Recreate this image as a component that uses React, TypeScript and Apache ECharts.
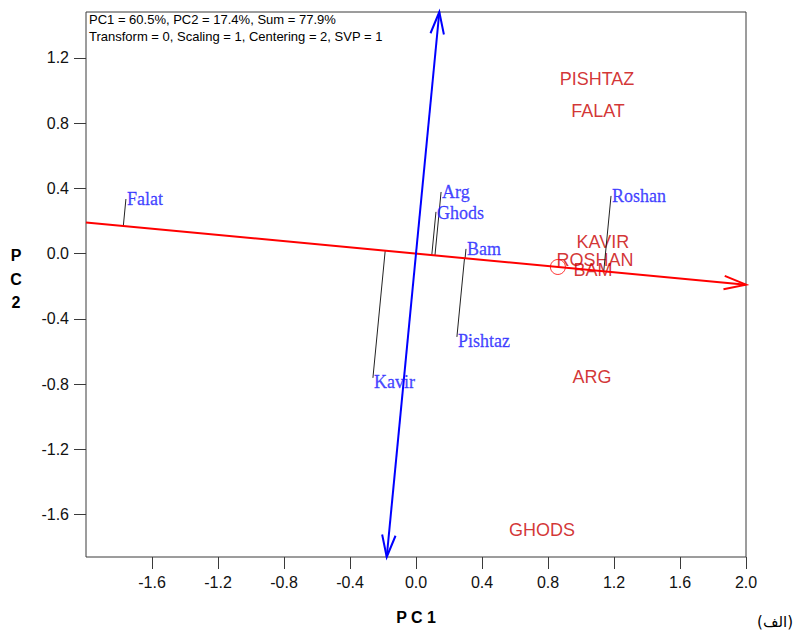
import React, { useEffect, useRef } from "react";
import * as echarts from "echarts";

// ---- data ----
const xTicks = [-1.6, -1.2, -0.8, -0.4, 0.0, 0.4, 0.8, 1.2, 1.6, 2.0];
const yTicks = [-1.6, -1.2, -0.8, -0.4, 0.0, 0.4, 0.8, 1.2];
const xRange = [-2.0, 2.0];
const yRange = [-1.861, 1.482];

// average environment coordinates (red circle)
const aecPoint = [0.86, -0.082];

// blue labels (with projection lines onto the red axis)
const genotypeNames = ["Falat", "Arg", "Ghods", "Bam", "Pishtaz", "Roshan", "Kavir"];
const genotypePC1 = [-1.758, 0.152, 0.121, 0.303, 0.248, 1.182, -0.261];
const genotypePC2 = [0.335, 0.378, 0.256, 0.029, -0.511, 0.354, -0.762];

// red labels
const envNames = ["PISHTAZ", "FALAT", "KAVIR", "ROSHAN", "BAM", "ARG", "GHODS"];
const envPC1 = [1.097, 1.103, 1.133, 1.085, 1.073, 1.067, 0.764];
const envPC2 = [1.071, 0.875, 0.072, -0.038, -0.1, -0.756, -1.694];

const infoLine1 = "PC1 = 60.5%, PC2 = 17.4%, Sum = 77.9%";
const infoLine2 = "Transform = 0, Scaling = 1, Centering = 2, SVP = 1";
const xTitle = "P C 1";
const yTitle = "P\nC\n2";
const panelLabel = "(الف)";

// label nudges (style only, in pixels)
const labelNudge: Record<string, number[]> = { Kavir: [0, 4], Pishtaz: [0, 4], Ghods: [0, 1] };

function arrowHead(tip: number[], tail: number[], len: number, ang: number) {
  const dx = tail[0] - tip[0];
  const dy = tail[1] - tip[1];
  const L = Math.hypot(dx, dy) || 1;
  const ux = dx / L;
  const uy = dy / L;
  const c = Math.cos(ang);
  const s = Math.sin(ang);
  const a1 = [tip[0] + len * (ux * c - uy * s), tip[1] + len * (ux * s + uy * c)];
  const a2 = [tip[0] + len * (ux * c + uy * s), tip[1] + len * (-ux * s + uy * c)];
  return [a1, tip, a2];
}

export default function App() {
  const ref = useRef<HTMLDivElement>(null);

  useEffect(() => {
    document.body.style.margin = "0";
    if (!ref.current) return;
    const chart = echarts.init(ref.current, null, { renderer: "svg" });

    const slope = aecPoint[1] / aecPoint[0];
    const redLine = [[xRange[0], slope * xRange[0], xRange[1], slope * xRange[1], 1]];
    const blueLine = [[-slope * yRange[0], yRange[0], -slope * yRange[1], yRange[1], 2]];
    const norm = Math.hypot(aecPoint[0], aecPoint[1]);
    const ux = aecPoint[0] / norm;
    const uy = aecPoint[1] / norm;

    const axisLineRender = (color: string) => (params: any, api: any) => {
      const p1 = api.coord([api.value(0), api.value(1)]);
      const p2 = api.coord([api.value(2), api.value(3)]);
      const both = api.value(4) === 2;
      const style = { stroke: color, lineWidth: 2, fill: "none" };
      const children: any[] = [
        { type: "line", shape: { x1: p1[0], y1: p1[1], x2: p2[0], y2: p2[1] }, style },
        { type: "polyline", shape: { points: arrowHead(p2, p1, 23, (17 * Math.PI) / 180) }, style },
      ];
      if (both) {
        children.push({
          type: "polyline",
          shape: { points: arrowHead(p1, p2, 23, (17 * Math.PI) / 180) },
          style,
        });
      }
      return { type: "group", children };
    };

    const tickFormatter = (v: number) => (Math.abs(v) < 1e-9 ? 0 : v).toFixed(1);

    const option: any = {
      animation: false,
      grid: {
        left: 86,
        top: 12,
        width: 660,
        height: 545,
        show: true,
        borderColor: "#3a3a3a",
        borderWidth: 1,
        containLabel: false,
      },
      xAxis: {
        type: "value",
        min: xRange[0],
        max: xRange[1],
        axisLine: { show: false, onZero: false },
        splitLine: { show: false },
        axisTick: {
          show: true,
          length: 12,
          customValues: xTicks,
          lineStyle: { color: "#3a3a3a", width: 1 },
        },
        axisLabel: {
          customValues: xTicks,
          margin: 17,
          fontSize: 16,
          fontFamily: "Liberation Sans, Arial, sans-serif",
          color: "#111",
          formatter: tickFormatter,
        },
      },
      yAxis: {
        type: "value",
        min: yRange[0],
        max: yRange[1],
        axisLine: { show: false, onZero: false },
        splitLine: { show: false },
        axisTick: {
          show: true,
          length: 12,
          customValues: yTicks,
          lineStyle: { color: "#3a3a3a", width: 1 },
        },
        axisLabel: {
          customValues: yTicks,
          margin: 17,
          fontSize: 16,
          fontFamily: "Liberation Sans, Arial, sans-serif",
          color: "#111",
          formatter: tickFormatter,
        },
      },
      series: [
        {
          type: "scatter",
          name: "env",
          symbolSize: 0,
          data: envNames.map((n, i) => ({ name: n, value: [envPC1[i], envPC2[i]] })),
          label: {
            show: true,
            position: "inside",
            formatter: (p: any) => p.name,
            fontSize: 18,
            fontFamily: "Liberation Sans, Arial, sans-serif",
            color: "#c80000",
          },
          z: 2,
        },
        {
          type: "custom",
          name: "projections",
          clip: false,
          data: genotypeNames.map((n, i) => [genotypePC1[i], genotypePC2[i]]),
          renderItem: (params: any, api: any) => {
            const x = api.value(0);
            const y = api.value(1);
            const t = x * ux + y * uy;
            const p = api.coord([x, y]);
            const f = api.coord([t * ux, t * uy]);
            return {
              type: "line",
              shape: { x1: p[0], y1: p[1], x2: f[0], y2: f[1] },
              style: { stroke: "#222", lineWidth: 1 },
            };
          },
          z: 3,
        },
        {
          type: "custom",
          name: "aecAxis",
          clip: false,
          data: redLine,
          renderItem: axisLineRender("#ff0000"),
          z: 4,
        },
        {
          type: "custom",
          name: "aecOrdinate",
          clip: false,
          data: blueLine,
          renderItem: axisLineRender("#0000ff"),
          z: 4,
        },
        {
          type: "scatter",
          name: "aec",
          symbol: "circle",
          symbolSize: 15,
          data: [aecPoint],
          itemStyle: { color: "rgba(0,0,0,0)", borderColor: "#ff0000", borderWidth: 1 },
          z: 5,
        },
        {
          type: "scatter",
          name: "genotypes",
          symbolSize: 0,
          data: genotypeNames.map((n, i) => ({
            name: n,
            value: [genotypePC1[i], genotypePC2[i]],
            label: { offset: labelNudge[n] || [0, 0] },
          })),
          label: {
            show: true,
            position: "right",
            distance: 1,
            formatter: (p: any) => p.name,
            fontSize: 18,
            fontFamily: "Liberation Serif, Times New Roman, serif",
            color: "#1a1aff",
            textBorderColor: "#1a1aff",
            textBorderWidth: 0.3,
          },
          z: 6,
        },
      ],
      graphic: [
        {
          type: "text",
          left: 89,
          top: 13,
          style: {
            text: infoLine1,
            fontSize: 13,
            fontFamily: "Liberation Sans, Arial, sans-serif",
            fill: "#000",
          },
        },
        {
          type: "text",
          left: 89,
          top: 30,
          style: {
            text: infoLine2,
            fontSize: 13,
            fontFamily: "Liberation Sans, Arial, sans-serif",
            fill: "#000",
          },
        },
        {
          type: "text",
          x: 416,
          y: 617,
          style: {
            text: xTitle,
            fontSize: 16,
            fontWeight: "bold",
            fontFamily: "Liberation Sans, Arial, sans-serif",
            fill: "#000",
            align: "center",
            verticalAlign: "middle",
          },
        },
        {
          type: "text",
          x: 16,
          y: 279,
          style: {
            text: yTitle,
            fontSize: 16,
            lineHeight: 23.5,
            fontWeight: "bold",
            fontFamily: "Liberation Sans, Arial, sans-serif",
            fill: "#000",
            align: "center",
            verticalAlign: "middle",
          },
        },
        {
          type: "text",
          x: 775,
          y: 622,
          style: {
            text: panelLabel,
            fontSize: 15,
            fontFamily: "DejaVu Sans, sans-serif",
            fill: "#000",
            align: "center",
            verticalAlign: "middle",
          },
        },
      ],
    };

    chart.setOption(option);
    return () => chart.dispose();
  }, []);

  return <div ref={ref} style={{ width: 800, height: 632 }} />;
}
